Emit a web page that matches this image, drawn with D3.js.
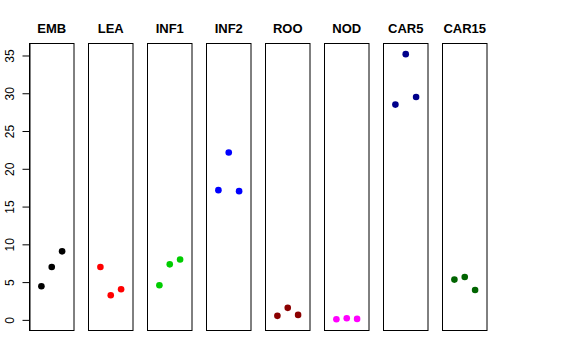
<!DOCTYPE html>
<html>
<head>
<meta charset="utf-8">
<script src="https://cdn.jsdelivr.net/npm/d3@7"></script>
<style>
  body { margin: 0; background: #fff; }
  text { font-family: "Liberation Sans", Arial, sans-serif; }
</style>
</head>
<body>
<svg id="chart" width="576" height="360"></svg>
<script>
// panel names, colours and three values per panel
var panels = ["EMB", "LEA", "INF1", "INF2", "ROO", "NOD", "CAR5", "CAR15"];
var colors = ["#000000", "#FF0000", "#00CD00", "#0000FF", "#8B0000", "#FF00FF", "#00008B", "#006400"];
var values = [
  [4.45, 7.0, 9.07],
  [7.0, 3.26, 4.05],
  [4.58, 7.35, 8.0],
  [17.17, 22.15, 17.04],
  [0.53, 1.59, 0.66],
  [0.09, 0.22, 0.13],
  [28.5, 35.18, 29.5],
  [5.33, 5.68, 3.96]
];
var yTicks = [0, 5, 10, 15, 20, 25, 30, 35];

var svg = d3.select("#chart");
var plotTop = 43.5, plotBottom = 330.5, firstLeft = 29.5, panelW = 44.5, step = 59.1;

// y extent like R: 4% padding around data range
var yMin = 0, yMax = 35.18, pad = (yMax - yMin) * 0.04;
var y = d3.scaleLinear().domain([yMin - pad, yMax + pad]).range([plotBottom, plotTop]);

// one x scale for the position within a panel
var x = d3.scaleLinear().domain([-0.15, 4.15]).range([0, panelW]);

panels.forEach(function(name, i){
  var left = Math.round(firstLeft + i * step) - 0.5;
  var g = svg.append("g").attr("transform", "translate(" + left + ",0)");

  g.append("rect")
    .attr("x", 0).attr("y", plotTop)
    .attr("width", panelW).attr("height", plotBottom - plotTop)
    .attr("fill", "none").attr("stroke", "#000").attr("stroke-width", 1);

  g.append("text")
    .attr("x", panelW / 2).attr("y", 33)
    .attr("text-anchor", "middle")
    .style("font-weight", "bold").style("font-size", "13px")
    .text(name);

  g.selectAll("circle")
    .data(values[i])
    .enter()
    .append("circle")
    .attr("cx", function(d, j){ return x(j + 1); })
    .attr("cy", function(d){ return y(d); })
    .attr("r", 3.3)
    .attr("fill", colors[i]);

  if (i === 0) {
    var axis = d3.axisLeft(y).tickValues(yTicks).tickSize(7).tickSizeOuter(0).tickPadding(10);
    var ax = g.append("g").call(axis);
    ax.select(".domain").attr("stroke", "#000");
    ax.selectAll(".tick line").attr("stroke", "#000");
    ax.selectAll(".tick text")
      .style("font-size", "12px")
      .attr("fill", "#000")
      .attr("transform", "rotate(-90)")
      .attr("x", 0)
      .attr("y", -16)
      .attr("dy", 0)
      .attr("text-anchor", "middle");
  }
});
</script>
</body>
</html>
